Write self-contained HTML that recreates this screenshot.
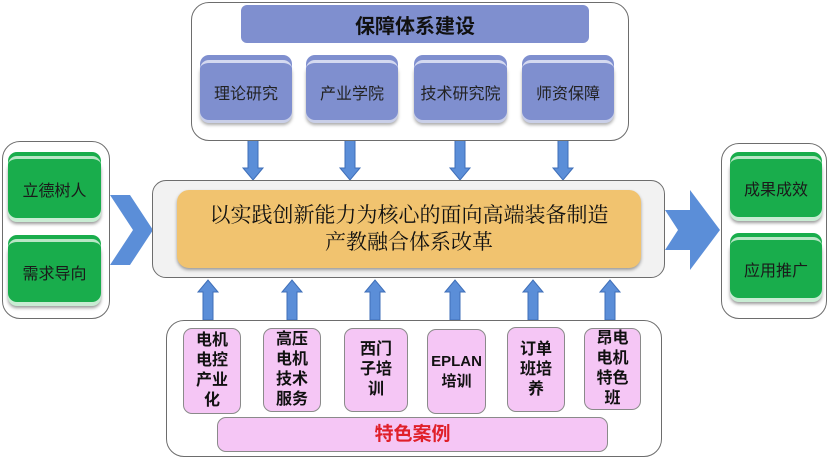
<!DOCTYPE html>
<html><head><meta charset="utf-8"><style>
body{margin:0;width:832px;height:459px;background:#fff;position:relative;overflow:hidden;font-family:"Liberation Sans","Noto Sans CJK SC",sans-serif}
.a{position:absolute;box-sizing:border-box}
.cont{border:1.5px solid #6d6d6d;border-radius:18px;background:#fff}
.blue{background:#7f8fcf;border-radius:9px;border-top:3px solid #d4d9f0;box-shadow:0 -5px 0 #7f8fcf,0 3px 0 #c9cfe8,0 5px 3px #aaa;display:flex;align-items:center;justify-content:center;font-size:16px;color:#222}
.green{background:#19ad4c;border-radius:9px;border-top:3px solid #b9e6c6;box-shadow:0 -4px 0 #19ad4c,0 4px 0 #c8ecd3,0 6px 3px #999;display:flex;align-items:center;justify-content:center;font-size:16px;color:#1a1a1a}
.pink{background:#f5c6f5;border:1px solid #8a8a8a;border-radius:9px;display:flex;align-items:center;justify-content:center;text-align:center;font-size:16px;font-weight:bold;line-height:20px;color:#111}
</style></head><body>
<svg class="a" style="left:0;top:0" width="832" height="459">
<defs><g id="dn"><polygon points="-5,0 5,0 5,28 10,28 0,40 -10,28 -5,28" fill="#5b8ed8" stroke="#3f6fb8" stroke-width="1"/></g>
<g id="up"><polygon points="-5,40 5,40 5,12 10,12 0,0 -10,12 -5,12" fill="#5b8ed8" stroke="#3f6fb8" stroke-width="1"/></g></defs>
<use href="#dn" x="253" y="140"/><use href="#dn" x="350" y="140"/><use href="#dn" x="460" y="140"/><use href="#dn" x="563" y="140"/>
<use href="#up" x="208" y="280"/><use href="#up" x="292" y="280"/><use href="#up" x="375" y="280"/><use href="#up" x="455" y="280"/><use href="#up" x="533" y="280"/><use href="#up" x="610" y="280"/>
<polygon points="110,195 130,195 153,230 130,265 110,265 133,230" fill="#5b8ed8"/>
<polygon points="665,210 690,210 690,190 720,230 690,270 690,250 665,250 678,230" fill="#5b8ed8"/>
</svg>
<div class="a cont" style="left:191px;top:2px;width:438px;height:139px"></div>
<div class="a" style="left:241px;top:5px;width:348px;height:38px;background:#7f8fcf;border-radius:6px;display:flex;align-items:center;justify-content:center;font-size:20px;font-weight:bold;color:#111">保障体系建设</div>
<div class="a blue" style="left:200px;top:60px;width:92px;height:60px">理论研究</div>
<div class="a blue" style="left:306px;top:60px;width:92px;height:60px">产业学院</div>
<div class="a blue" style="left:414px;top:60px;width:93px;height:60px">技术研究院</div>
<div class="a blue" style="left:522px;top:60px;width:92px;height:60px">师资保障</div>
<div class="a cont" style="left:152px;top:180px;width:513px;height:98px;background:#f2f2f2;border-radius:14px"></div>
<div class="a" style="left:177px;top:190px;width:464px;height:78px;background:#f1c36f;border-radius:12px;box-shadow:0 2px 3px #999;display:flex;align-items:center;justify-content:center;text-align:center;font-family:'Liberation Serif','Noto Serif CJK SC',serif;font-size:21px;line-height:27px;color:#111">以实践创新能力为核心的面向高端装备制造<br>产教融合体系改革</div>
<div class="a cont" style="left:166px;top:320px;width:496px;height:137px"></div>
<div class="a pink" style="left:183px;top:328px;width:58px;height:86px">电机<br>电控<br>产业<br>化</div>
<div class="a pink" style="left:263px;top:328px;width:58px;height:84px">高压<br>电机<br>技术<br>服务</div>
<div class="a pink" style="left:344px;top:328px;width:64px;height:84px">西门<br>子培<br>训</div>
<div class="a pink" style="left:427px;top:329px;width:59px;height:85px;font-size:15px">EPLAN<br>培训</div>
<div class="a pink" style="left:507px;top:327px;width:58px;height:85px">订单<br>班培<br>养</div>
<div class="a pink" style="left:584px;top:328px;width:57px;height:82px">昂电<br>电机<br>特色<br>班</div>
<div class="a pink" style="left:217px;top:417px;width:391px;height:35px;font-size:19px;color:#e0202a">特色案例</div>
<div class="a cont" style="left:2px;top:141px;width:108px;height:178px"></div>
<div class="a green" style="left:8px;top:156px;width:93px;height:62px">立德树人</div>
<div class="a green" style="left:8px;top:239px;width:93px;height:63px">需求导向</div>
<div class="a cont" style="left:721px;top:143px;width:106px;height:176px"></div>
<div class="a green" style="left:730px;top:156px;width:92px;height:61px">成果成效</div>
<div class="a green" style="left:730px;top:237px;width:92px;height:61px">应用推广</div>
</body></html>
